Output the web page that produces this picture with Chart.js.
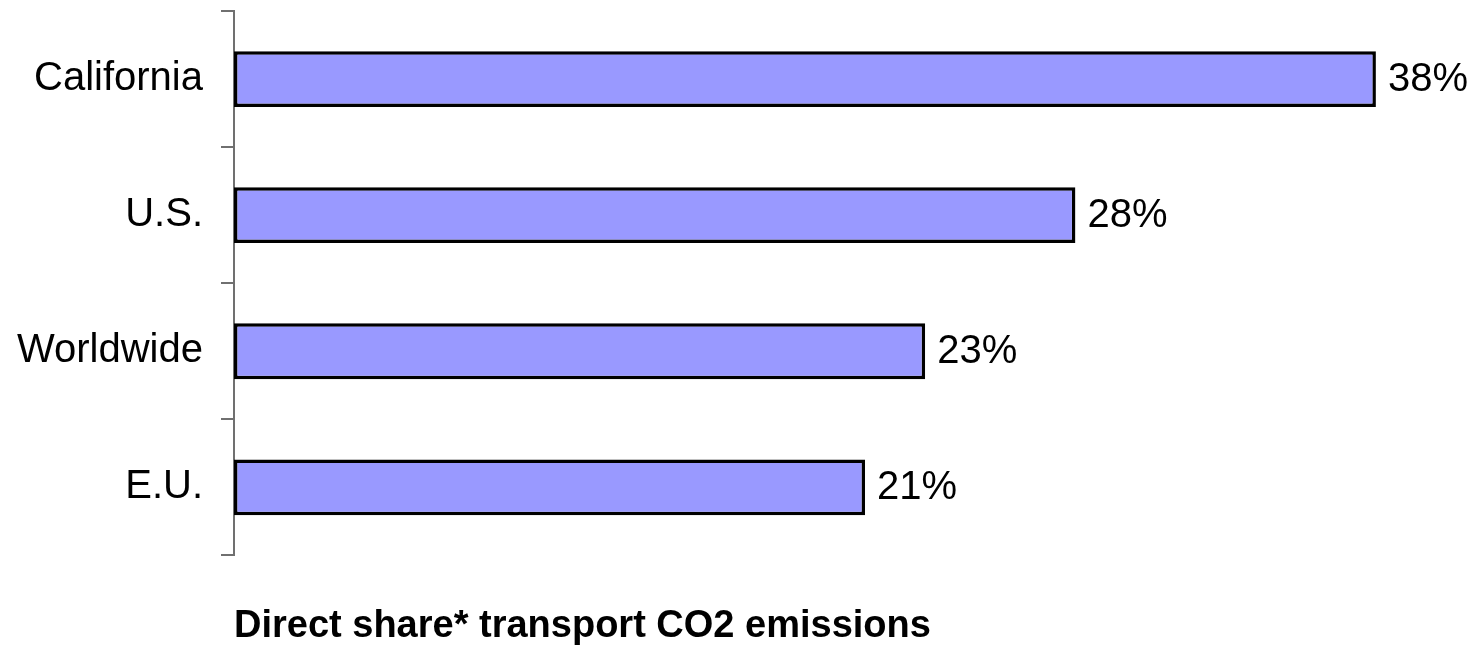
<!DOCTYPE html>
<html>
<head>
<meta charset="utf-8">
<script src="https://cdn.jsdelivr.net/npm/chart.js@4"></script>
<style>
  html, body { margin: 0; padding: 0; background: #fff; }
  #wrap { width: 1474px; height: 649px; }
</style>
</head>
<body>
<div id="wrap"><canvas id="co2-chart"></canvas></div>
<script>
// share of direct CO2 emissions coming from transport
const regions = ["California", "U.S.", "Worldwide", "E.U."];
const shares = [38, 28, 23, 21];
const chartTitle = "Direct share* transport CO2 emissions";

// write the percentage just right of each bar
const valueLabels = {
  id: 'valueLabels',
  afterDatasetsDraw(chart) {
    const ctx = chart.ctx;
    const meta = chart.getDatasetMeta(0);
    ctx.save();
    ctx.font = '40px "Liberation Sans", Arial, sans-serif';
    ctx.fillStyle = '#000';
    ctx.textAlign = 'left';
    ctx.textBaseline = 'middle';
    meta.data.forEach((bar, i) => {
      ctx.fillText(shares[i] + '%', bar.x + 12, bar.y + 1);
    });
    ctx.restore();
  }
};

Chart.defaults.color = '#000';
Chart.defaults.font.family = '"Liberation Sans", Arial, sans-serif';

new Chart(document.getElementById("co2-chart"), {
  type: 'bar',
  data: {
    labels: regions,
    datasets: [{
      data: shares,
      backgroundColor: '#9999FF',
      borderColor: '#000',
      borderWidth: 3.5,
      borderSkipped: false,
      barPercentage: 0.41,
      categoryPercentage: 1
    }]
  },
  options: {
    indexAxis: 'y',
    responsive: true,
    maintainAspectRatio: false,
    animation: false,
    layout: { padding: { top: 11, right: 38, bottom: 0, left: 0 } },
    plugins: {
      legend: { display: false },
      tooltip: { enabled: false },
      title: {
        display: true,
        text: chartTitle,
        position: 'bottom',
        align: 'start',
        fullSize: false,
        color: '#000',
        font: { size: 38, weight: 'bold' },
        padding: { top: 48, bottom: 0 }
      }
    },
    scales: {
      x: { display: false, min: 0, max: 40 },
      y: {
        // fixed axis position, no extra room reserved for label overhang
        afterFit(scale) {
          scale.width = 234;
          scale.paddingTop = 0;
          scale.paddingBottom = 0;
        },
        border: { display: true, color: '#707070', width: 2 },
        grid: {
          display: true,
          drawOnChartArea: false,
          drawTicks: true,
          tickLength: 13,
          color: '#707070',
          lineWidth: 2,
          offset: true
        },
        ticks: { padding: 18, font: { size: 40 }, color: '#000' }
      }
    }
  },
  plugins: [valueLabels]
});
</script>
</body>
</html>
